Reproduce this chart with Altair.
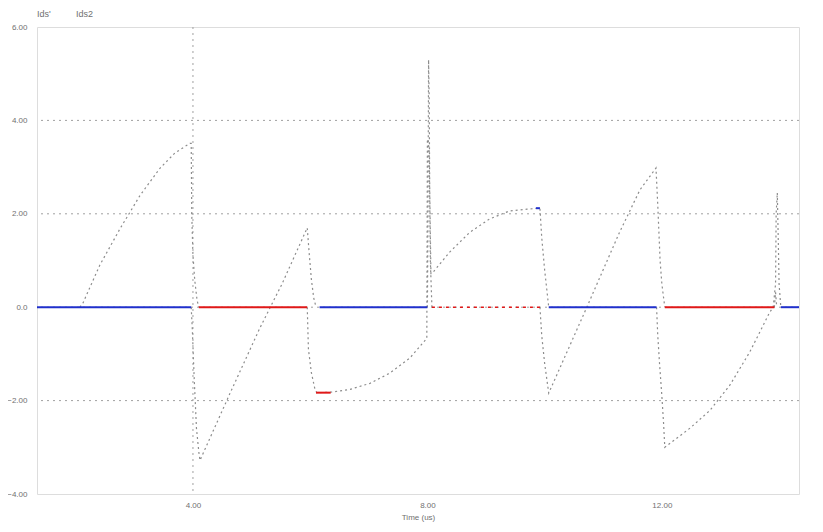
import altair as alt
import pandas as pd

# ---------------- data ----------------
x_domain = [1.339, 14.34]
y_domain = [-4.0, 6.0]
y_tick_values = [-4, -2, 0, 2, 4, 6]
x_tick_values = [4, 8, 12]
y_grid_values = [-2, 0, 2, 4]
cursor_t = [4.0]
legend_labels = ["Ids'", "Ids2"]
x_title = "Time (us)"

# Ids' (non-zero pieces, time in us, current)
idsp_seg_a_t = [2.07, 2.12, 2.41, 2.76, 3.10, 3.44, 3.69, 3.95, 3.97, 3.98, 4.00, 4.03, 4.07, 4.10]
idsp_seg_a_v = [0.0, 0.08, 0.90, 1.69, 2.40, 2.98, 3.30, 3.51, 3.51, 1.97, 1.11, 0.58, 0.15, 0.0]
idsp_seg_b_t = [5.95, 5.97, 6.02, 6.08, 6.11, 6.35, 6.68, 7.02, 7.36, 7.70, 7.96, 7.99, 8.00, 8.03, 8.05, 8.077]
idsp_seg_b_v = [0.0, -0.9, -1.4, -1.75, -1.83, -1.82, -1.76, -1.63, -1.41, -1.09, -0.71, -0.68, 3.6, 3.4, 1.0, 0.0]
idsp_seg_c_t = [9.92, 9.95, 10.00, 10.07, 10.72, 11.28, 11.625, 11.90, 11.93, 11.97, 12.00, 12.05]
idsp_seg_c_v = [0.0, -0.6, -1.2, -1.84, 0.0, 1.61, 2.51, 2.98, 2.2, 1.0, 0.5, 0.0]
idsp_seg_d_t = [13.92, 13.94, 13.96]
idsp_seg_d_v = [0.0, 0.32, 0.0]

# Ids2 (non-zero pieces)
ids2_seg_a_t = [3.97, 3.99, 4.02, 4.06, 4.10, 4.12, 4.63, 5.14, 5.52, 5.95, 5.98, 6.02, 6.06, 6.10]
ids2_seg_a_v = [0.0, -0.5, -1.5, -2.6, -3.1, -3.28, -1.85, -0.45, 0.5, 1.70, 1.2, 0.6, 0.2, 0.0]
ids2_seg_b_t = [8.00, 8.01, 8.02, 8.03, 8.04, 8.06, 8.077, 8.38, 8.72, 9.06, 9.40, 9.70, 9.92, 9.95, 10.00, 10.07]
ids2_seg_b_v = [0.0, 2.0, 5.3, 4.5, 2.5, 0.72, 0.72, 1.18, 1.60, 1.89, 2.06, 2.10, 2.12, 1.5, 0.8, 0.0]
ids2_seg_c_t = [11.91, 11.93, 11.96, 12.00, 12.03, 12.05, 12.48, 12.82, 13.16, 13.50, 13.84, 13.90, 13.94, 13.95, 13.97, 13.99, 14.00, 14.03]
ids2_seg_c_v = [0.0, -0.6, -1.2, -1.9, -2.5, -3.0, -2.59, -2.21, -1.67, -0.96, -0.11, 0.0, 0.5, 2.0, 2.45, 1.2, 0.5, 0.0]

# flat pieces drawn in the series colour
ids2_flat_start = [1.339, 6.16, 10.07, 14.03, 9.85]
ids2_flat_end = [3.97, 8.00, 11.91, 14.34, 9.92]
ids2_flat_level = [0.0, 0.0, 0.0, 0.0, 2.12]
idsp_flat_start = [4.10, 12.05, 6.10]
idsp_flat_end = [5.95, 13.92, 6.35]
idsp_flat_level = [0.0, 0.0, -1.83]
idsp_dotted_start = [8.077]
idsp_dotted_end = [9.92]
idsp_dotted_level = [0.0]

# ---------------- tables ----------------
rows = []
for name, segs in [
    ("Ids'", [(idsp_seg_a_t, idsp_seg_a_v), (idsp_seg_b_t, idsp_seg_b_v),
              (idsp_seg_c_t, idsp_seg_c_v), (idsp_seg_d_t, idsp_seg_d_v)]),
    ("Ids2", [(ids2_seg_a_t, ids2_seg_a_v), (ids2_seg_b_t, ids2_seg_b_v),
              (ids2_seg_c_t, ids2_seg_c_v)]),
]:
    for i, (ts, vs) in enumerate(segs):
        for k, (t, v) in enumerate(zip(ts, vs)):
            rows.append({"series": name, "seg": f"{name}-{i}", "t": t, "v": v, "order": k})
trace_df = pd.DataFrame(rows)

blue_df = pd.DataFrame({"t": ids2_flat_start, "t2": ids2_flat_end, "v": ids2_flat_level})
red_df = pd.DataFrame({"t": idsp_flat_start, "t2": idsp_flat_end, "v": idsp_flat_level})
red_dot_df = pd.DataFrame({"t": idsp_dotted_start, "t2": idsp_dotted_end, "v": idsp_dotted_level})
cursor_df = pd.DataFrame({"t": cursor_t})
grid_df = pd.DataFrame({"v": y_grid_values})

xs = alt.Scale(domain=x_domain, nice=False, zero=False)
ys = alt.Scale(domain=y_domain, nice=False, zero=False)

label_color = "#707070"
font = "Liberation Sans"

x_axis = alt.Axis(values=x_tick_values, labelExpr="format(datum.value, '.2f')",
                  title=x_title, grid=False, domain=False, ticks=False,
                  labelFontSize=8, labelColor=label_color, labelFont=font,
                  labelPadding=7, titleFontSize=8, titleFont=font, titleColor=label_color,
                  titleFontWeight="normal", titlePadding=4)
y_axis = alt.Axis(values=y_tick_values,
                  labelExpr="datum.value == 0 ? '0.0' : format(datum.value, '.2f')",
                  title=None, grid=False, domain=False, ticks=False,
                  labelFontSize=8, labelColor=label_color, labelFont=font, labelPadding=10)

base = alt.Chart(trace_df)

grid = alt.Chart(grid_df).mark_rule(color="#a0a0a0", strokeWidth=1, strokeDash=[2, 4]).encode(
    y=alt.Y("v:Q", scale=ys, axis=y_axis)
)
cursor = alt.Chart(cursor_df).mark_rule(color="#a0a0a0", strokeWidth=1, strokeDash=[2, 4]).encode(
    x=alt.X("t:Q", scale=xs, axis=x_axis)
)

traces = base.mark_line(color="#8c8c8c", strokeWidth=1.2, strokeDash=[2, 3]).encode(
    x=alt.X("t:Q", scale=xs),
    y=alt.Y("v:Q", scale=ys),
    detail="seg:N",
    order="order:Q",
)

blue = alt.Chart(blue_df).mark_rule(color="#2030cc", strokeWidth=2).encode(
    x=alt.X("t:Q", scale=xs), x2="t2:Q", y=alt.Y("v:Q", scale=ys)
)
red = alt.Chart(red_df).mark_rule(color="#e01818", strokeWidth=2).encode(
    x=alt.X("t:Q", scale=xs), x2="t2:Q", y=alt.Y("v:Q", scale=ys)
)
red_dot = alt.Chart(red_dot_df).mark_rule(color="#e01818", strokeWidth=1.6, strokeDash=[3, 4]).encode(
    x=alt.X("t:Q", scale=xs), x2="t2:Q", y=alt.Y("v:Q", scale=ys)
)

leg1 = alt.Chart(pd.DataFrame({"label": [legend_labels[0]]})).mark_text(
    align="left", baseline="middle", fontSize=9, font=font, color=label_color
).encode(text="label:N", x=alt.value(0), y=alt.value(-13))
leg2 = alt.Chart(pd.DataFrame({"label": [legend_labels[1]]})).mark_text(
    align="left", baseline="middle", fontSize=9, font=font, color=label_color
).encode(text="label:N", x=alt.value(39), y=alt.value(-13))

chart = alt.layer(grid, cursor, traces, blue, red, red_dot, leg1, leg2).properties(
    width=762, height=467,
    autosize=alt.AutoSizeParams(type="none"),
    padding={"left": 29, "top": 19, "right": 16, "bottom": 30},
).configure_view(stroke="#a8a8a8", strokeWidth=2).configure(background="white")

chart.save("out.html", embed_options={"renderer": "svg", "actions": False})
